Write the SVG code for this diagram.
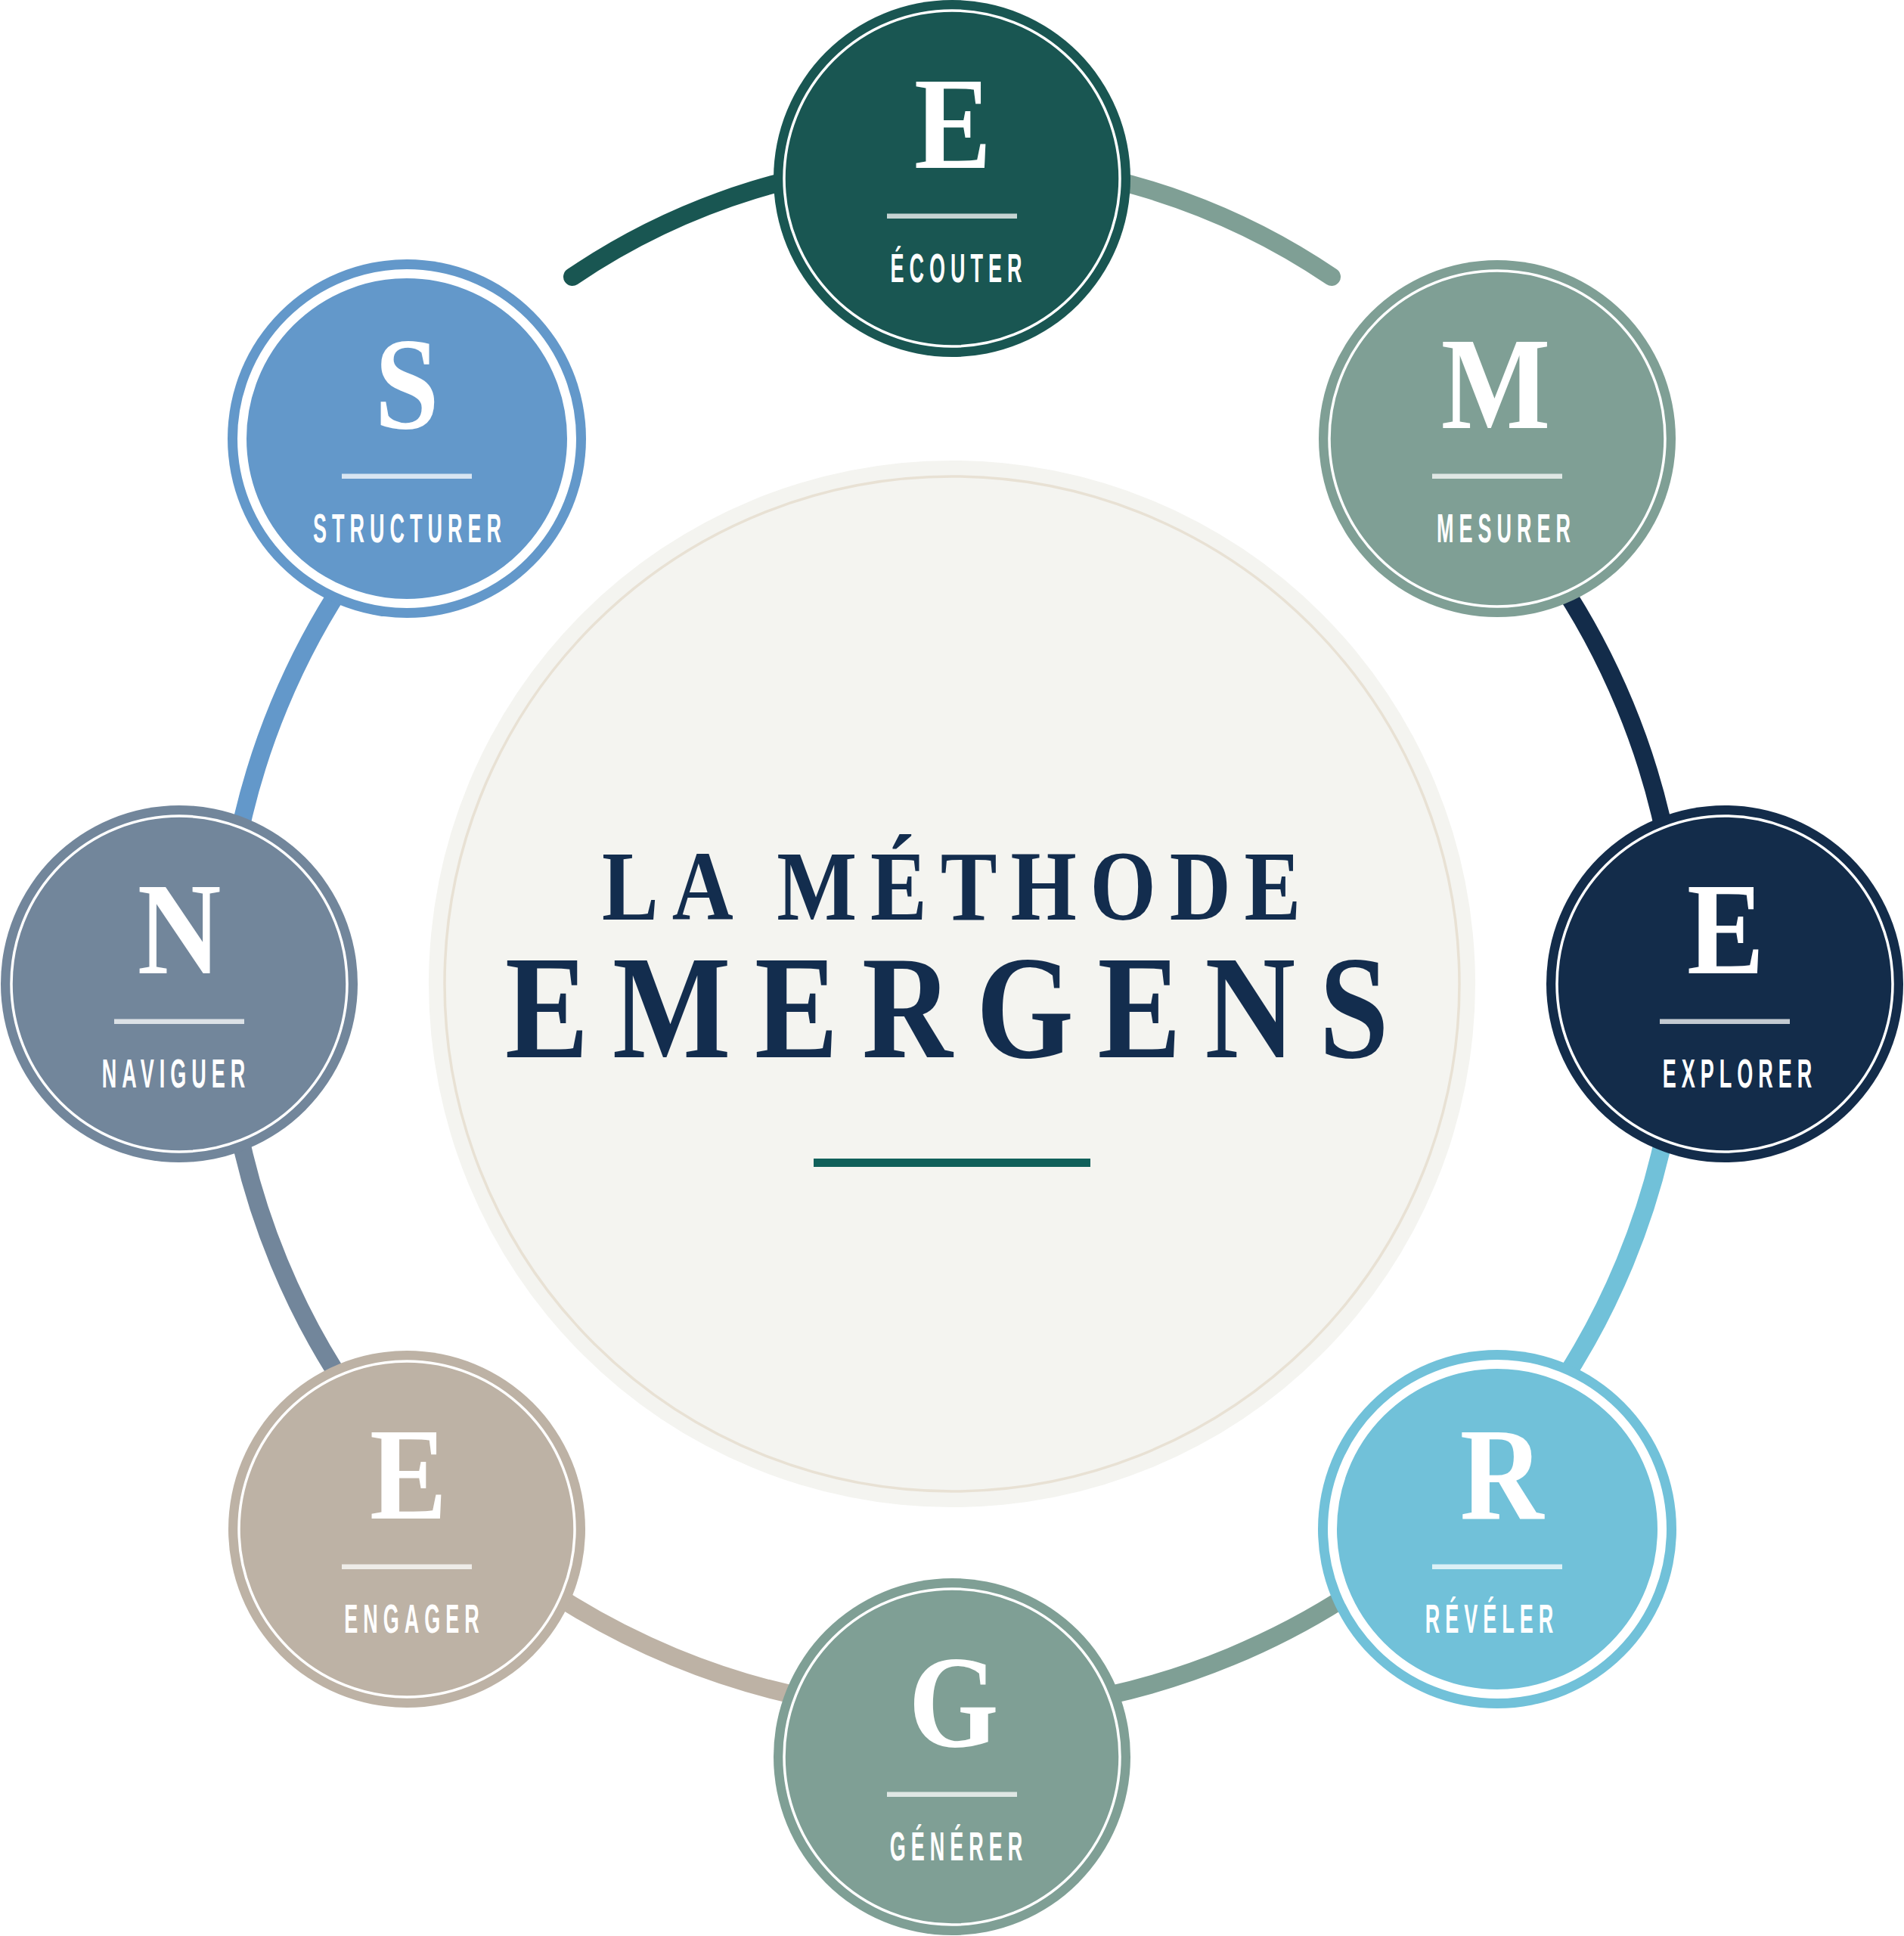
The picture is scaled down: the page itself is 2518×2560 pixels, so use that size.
<svg xmlns="http://www.w3.org/2000/svg" width="2518" height="2560" viewBox="0 0 2518 2560">
<style>
.arc{fill:none;stroke-width:24;stroke-linecap:round}
.ring{fill:none;stroke:#ffffff;stroke-width:3.5}
.ring2{fill:none;stroke:#ffffff;stroke-width:12}
.letter{font-family:"Liberation Serif","Times New Roman",serif;font-weight:700;font-size:174px;fill:#ffffff;text-anchor:middle}
.label{font-family:"Liberation Sans",Arial,sans-serif;font-weight:700;font-size:54px;fill:#ffffff;text-anchor:middle;letter-spacing:14px}
.bar{fill:#ffffff;fill-opacity:0.75}
.title{font-family:"Liberation Serif","Times New Roman",serif;font-weight:700;fill:#132d4e}
</style>
<rect width="2518" height="2560" fill="#ffffff"/>
<g id="connectors">
<path class="arc" stroke="#195652" d="M1259 212 A894 894 0 0 0 757 366"/>
<path class="arc" stroke="#7f9f95" d="M1761 366 A894 894 0 0 0 1259 212"/>
<path class="arc" stroke="#6398ca" d="M578 620 A963 963 0 0 0 296 1301"/>
<path class="arc" stroke="#72869b" d="M296 1301 A963 963 0 0 0 578 1982"/>
<path class="arc" stroke="#bdb2a5" d="M578 1982 A963 963 0 0 0 1259 2264"/>
<path class="arc" stroke="#7f9f95" d="M1259 2264 A963 963 0 0 0 1940 1982"/>
<path class="arc" stroke="#71c1d9" d="M1940 1982 A963 963 0 0 0 2222 1301"/>
<path class="arc" stroke="#132c4a" d="M2222 1301 A963 963 0 0 0 1940 620"/>
</g>
<g id="center">
<circle cx="1259" cy="1301" r="692" fill="#f4f4f0"/>
<circle cx="1259" cy="1301" r="671" fill="none" stroke="#e8e1d4" stroke-width="3.5"/>
<text class="title" transform="scale(0.85,1)"><tspan x="936.5" y="1216" font-size="132" letter-spacing="21">LA MÉTHODE</tspan><tspan x="786" y="1398" font-size="195" letter-spacing="37">EMERGENS</tspan></text>
<rect x="1076" y="1532" width="366" height="11" fill="#10605a"/>
</g>
<g id="node-ecouter">
<circle cx="1259" cy="236" r="236" fill="#195652"/>
<circle class="ring" cx="1259" cy="236" r="222"/>
<text class="letter" transform="translate(1260,222) scale(0.88,1)">E</text>
<rect class="bar" x="1173" y="282.5" width="172" height="6.5"/>
<text class="label" transform="translate(1268,373) scale(0.5,1)">ÉCOUTER</text>
</g>
<g id="node-mesurer">
<circle cx="1980" cy="580" r="236" fill="#7f9f95"/>
<circle class="ring" cx="1980" cy="580" r="222"/>
<text class="letter" transform="translate(1978,566) scale(0.88,1)">M</text>
<rect class="bar" x="1894" y="626.5" width="172" height="6.5"/>
<text class="label" transform="translate(1992,717) scale(0.5,1)">MESURER</text>
</g>
<g id="node-explorer">
<circle cx="2281" cy="1301" r="236" fill="#132c4a"/>
<circle class="ring" cx="2281" cy="1301" r="222"/>
<text class="letter" transform="translate(2282,1287) scale(0.88,1)">E</text>
<rect class="bar" x="2195" y="1347.5" width="172" height="6.5"/>
<text class="label" transform="translate(2301,1438) scale(0.5,1)">EXPLORER</text>
</g>
<g id="node-reveler">
<circle cx="1980" cy="2022" r="237" fill="#71c1d9"/>
<circle class="ring2" cx="1980" cy="2022" r="218"/>
<text class="letter" transform="translate(1986,2008) scale(0.88,1)">R</text>
<rect class="bar" x="1894" y="2068.5" width="172" height="6.5"/>
<text class="label" transform="translate(1973,2159) scale(0.5,1)">RÉVÉLER</text>
</g>
<g id="node-generer">
<circle cx="1259" cy="2323" r="236" fill="#7f9f95"/>
<circle class="ring" cx="1259" cy="2323" r="222"/>
<text class="letter" transform="translate(1261,2309) scale(0.88,1)">G</text>
<rect class="bar" x="1173" y="2369.5" width="172" height="6.5"/>
<text class="label" transform="translate(1268,2460) scale(0.5,1)">GÉNÉRER</text>
</g>
<g id="node-engager">
<circle cx="538" cy="2022" r="236" fill="#bdb2a5"/>
<circle class="ring" cx="538" cy="2022" r="222"/>
<text class="letter" transform="translate(540,2008) scale(0.88,1)">E</text>
<rect class="bar" x="452" y="2068.5" width="172" height="6.5"/>
<text class="label" transform="translate(548,2159) scale(0.5,1)">ENGAGER</text>
</g>
<g id="node-naviguer">
<circle cx="237" cy="1301" r="236" fill="#72869b"/>
<circle class="ring" cx="237" cy="1301" r="222"/>
<text class="letter" transform="translate(237,1287) scale(0.88,1)">N</text>
<rect class="bar" x="151" y="1347.5" width="172" height="6.5"/>
<text class="label" transform="translate(233,1438) scale(0.5,1)">NAVIGUER</text>
</g>
<g id="node-structurer">
<circle cx="538" cy="580" r="237" fill="#6398ca"/>
<circle class="ring2" cx="538" cy="580" r="218"/>
<text class="letter" transform="translate(538,566) scale(0.88,1)">S</text>
<rect class="bar" x="452" y="626.5" width="172" height="6.5"/>
<text class="label" transform="translate(542,717) scale(0.5,1)">STRUCTURER</text>
</g>
</svg>
